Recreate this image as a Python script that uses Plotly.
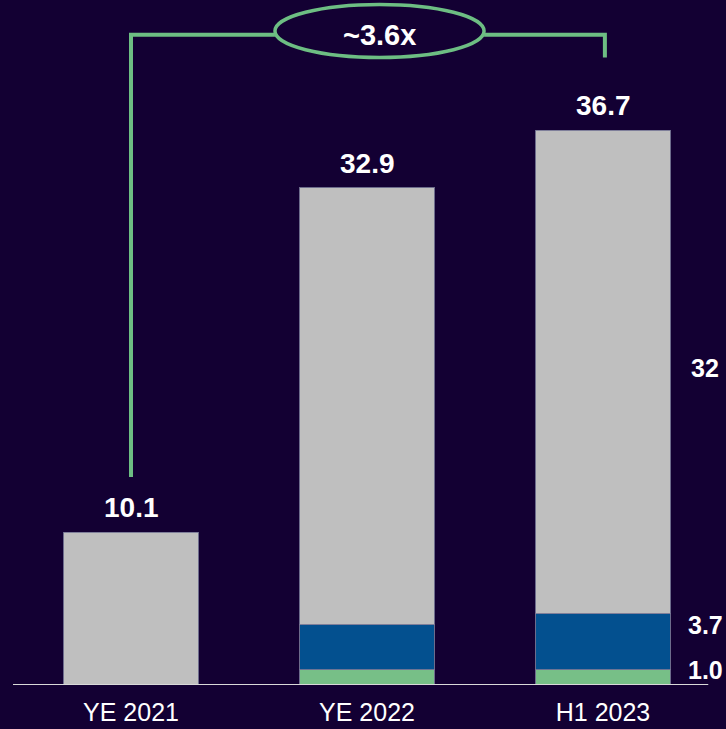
import plotly.graph_objects as go

# Stacked components per period (the three segments add up to the totals)
categories = ["YE 2021", "YE 2022", "H1 2023"]
green_vals = [0.0, 1.0, 1.0]
blue_vals = [0.0, 3.0, 3.7]
grey_vals = [10.1, 28.9, 32.0]
totals = [10.1, 32.9, 36.7]
growth_label = "~3.6x"

BG = "#130033"
GREY = "#BFBFBF"
BLUE = "#03508F"
GREEN = "#77BF87"
LINE_GREEN = "#6DBE83"
FONT = "Liberation Sans, Arial, sans-serif"

fig = go.Figure()
edge = dict(color="rgba(120,120,150,0.9)", width=1)
for vals, col in [(green_vals, GREEN), (blue_vals, BLUE), (grey_vals, GREY)]:
    fig.add_trace(go.Bar(x=categories, y=vals, marker=dict(color=col, line=edge),
                         hoverinfo="skip", showlegend=False))

# Totals above each bar
for c, t in zip(categories, totals):
    fig.add_annotation(x=c, y=t, text=f"<b>{t:.1f}</b>", showarrow=False,
                       xanchor="center", yanchor="bottom", yshift=7,
                       font=dict(family=FONT, size=28, color="white"))

# Segment labels at the right of the last bar
last = len(categories) - 1
seg_labels = [
    (green_vals[last] / 2, f"{green_vals[last]:.1f}", 7),
    (green_vals[last] + blue_vals[last] / 2, f"{blue_vals[last]:.1f}", 17),
    (green_vals[last] + blue_vals[last] + grey_vals[last] / 2, f"{grey_vals[last]:.0f}", 4),
]
for yv, txt, shift in seg_labels:
    fig.add_annotation(xref="paper", x=0.978, y=yv, text=f"<b>{txt}</b>",
                       showarrow=False, xanchor="center", yanchor="middle", yshift=shift,
                       font=dict(family=FONT, size=25, color="white"))

# Growth bracket from the first to the last bar, with the ellipse in the middle
top_y = 43.0
left_bottom = totals[0] + 3.66
right_bottom = 41.5
ell_x0, ell_x1 = 0.61, 1.496
ell_y0, ell_y1 = 41.5, 45.0
lw = 4
fig.add_shape(type="path",
              path=f"M 0,{left_bottom} L 0,{top_y} L {ell_x0},{top_y}",
              line=dict(color=LINE_GREEN, width=lw))
fig.add_shape(type="path",
              path=f"M {ell_x1},{top_y} L 2.008,{top_y} L 2.008,{right_bottom}",
              line=dict(color=LINE_GREEN, width=lw))
fig.add_shape(type="circle", x0=ell_x0, x1=ell_x1, y0=ell_y0, y1=ell_y1,
              line=dict(color=LINE_GREEN, width=3.5), fillcolor=BG)
fig.add_annotation(x=(ell_x0 + ell_x1) / 2, y=top_y, text=f"<b>{growth_label}</b>",
                   showarrow=False, xanchor="center", yanchor="middle",
                   font=dict(family=FONT, size=29, color="white"))

# Baseline
fig.add_shape(type="line", xref="paper", yref="y", x0=0.0, x1=0.982, y0=0, y1=0,
              line=dict(color="#D9D9D9", width=2))

fig.update_layout(
    width=726, height=729,
    margin=dict(l=13, r=5, t=0, b=44, autoexpand=False),
    paper_bgcolor=BG, plot_bgcolor=BG,
    barmode="stack", bargap=0.432,
    font=dict(family=FONT, color="white"),
    xaxis=dict(showgrid=False, zeroline=False, showline=False, ticks="",
               tickfont=dict(family=FONT, size=25, color="white"),
               ticklabelstandoff=10, automargin=False,
               range=[-0.5, 2.5], fixedrange=True),
    yaxis=dict(visible=False, range=[0, 45.3], fixedrange=True, automargin=False),
)

fig.write_html("out.html")
